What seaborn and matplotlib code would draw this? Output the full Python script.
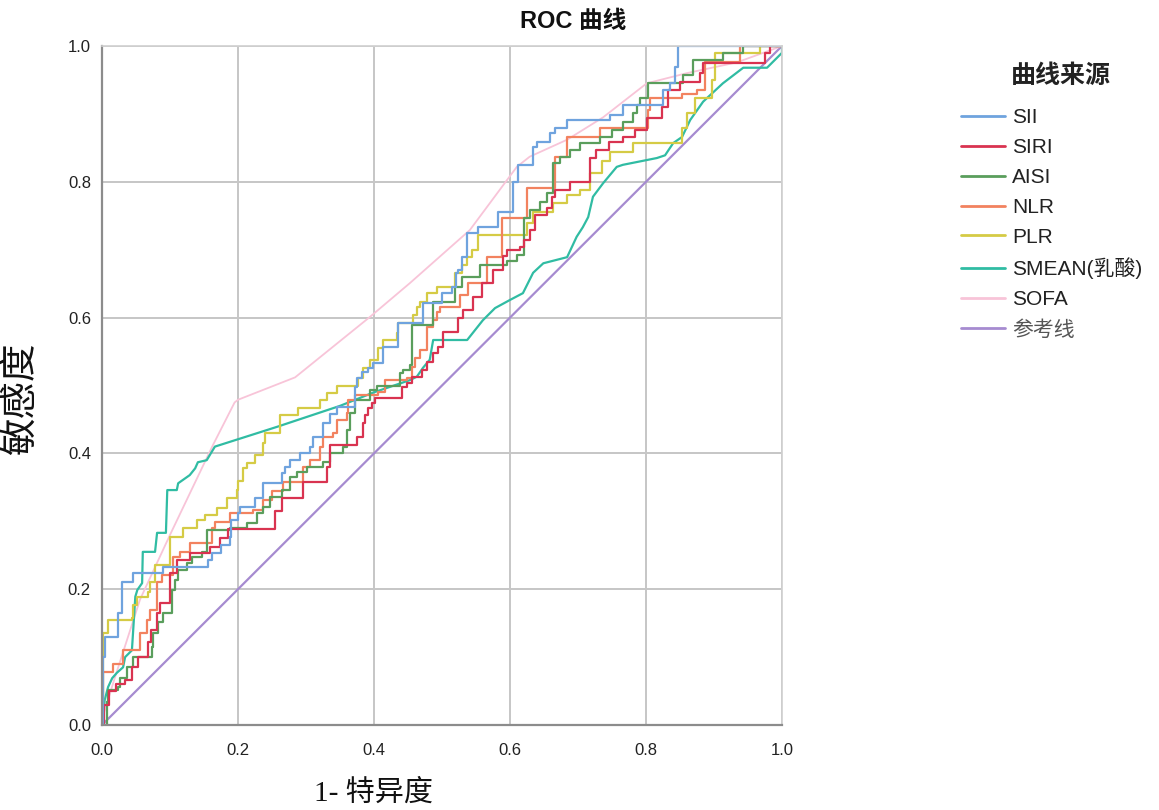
import matplotlib
matplotlib.use("Agg")
import matplotlib.pyplot as plt
import seaborn as sns
import pandas as pd

# ---------------- data (1-specificity, sensitivity) ----------------
SII_POINTS = [
    (0, 0), (0.001, 0.10), (0.004, 0.13), (0.024, 0.165), (0.03, 0.21), (0.046, 0.224),
    (0.09, 0.233), (0.156, 0.243), (0.162, 0.253), (0.175, 0.265), (0.188, 0.277),
    (0.19, 0.302), (0.2, 0.312), (0.203, 0.321), (0.225, 0.334), (0.237, 0.356),
    (0.265, 0.371), (0.269, 0.38), (0.276, 0.39), (0.291, 0.40), (0.306, 0.41),
    (0.31, 0.424), (0.325, 0.445), (0.335, 0.458), (0.346, 0.468), (0.372, 0.498),
    (0.375, 0.511), (0.382, 0.52), (0.391, 0.526), (0.399, 0.533), (0.413, 0.557),
    (0.435, 0.592), (0.472, 0.621), (0.50, 0.636), (0.515, 0.645), (0.52, 0.666),
    (0.524, 0.67), (0.529, 0.689), (0.537, 0.725), (0.553, 0.734), (0.582, 0.756),
    (0.604, 0.80), (0.612, 0.825), (0.634, 0.851), (0.639, 0.859), (0.659, 0.872),
    (0.666, 0.879), (0.684, 0.891), (0.747, 0.899), (0.766, 0.913), (0.825, 0.935),
    (0.835, 0.945), (0.843, 0.969), (0.847, 1.0), (1.0, 1.0),
]
SIRI_POINTS = [
    (0, 0), (0.003, 0.03), (0.01, 0.05), (0.02, 0.06), (0.034, 0.066), (0.044, 0.085),
    (0.053, 0.10), (0.068, 0.122), (0.072, 0.14), (0.081, 0.165), (0.085, 0.18),
    (0.1, 0.224), (0.11, 0.243), (0.129, 0.253), (0.159, 0.262), (0.174, 0.275),
    (0.185, 0.289), (0.254, 0.315), (0.265, 0.334), (0.296, 0.358), (0.331, 0.38),
    (0.335, 0.412), (0.375, 0.424), (0.384, 0.445), (0.387, 0.456), (0.391, 0.467),
    (0.397, 0.474), (0.401, 0.482), (0.441, 0.498), (0.448, 0.504), (0.456, 0.513),
    (0.47, 0.523), (0.478, 0.535), (0.487, 0.548), (0.494, 0.557), (0.502, 0.579),
    (0.524, 0.60), (0.531, 0.611), (0.545, 0.63), (0.559, 0.651), (0.575, 0.67),
    (0.59, 0.69), (0.596, 0.70), (0.615, 0.704), (0.62, 0.714), (0.629, 0.729),
    (0.637, 0.751), (0.654, 0.761), (0.662, 0.778), (0.666, 0.788), (0.688, 0.80),
    (0.718, 0.835), (0.727, 0.847), (0.745, 0.859), (0.766, 0.866), (0.784, 0.876),
    (0.801, 0.894), (0.823, 0.91), (0.832, 0.935), (0.85, 0.947), (0.879, 0.96),
    (0.884, 0.975), (0.975, 0.99), (0.982, 1.0), (1.0, 1.0),
]
AISI_POINTS = [
    (0, 0), (0.007, 0.034), (0.009, 0.052), (0.024, 0.056), (0.026, 0.069), (0.037, 0.085),
    (0.046, 0.1), (0.074, 0.115), (0.075, 0.135), (0.082, 0.152), (0.09, 0.165),
    (0.103, 0.199), (0.107, 0.213), (0.112, 0.228), (0.125, 0.238), (0.132, 0.248),
    (0.147, 0.255), (0.154, 0.287), (0.188, 0.29), (0.213, 0.297), (0.228, 0.312),
    (0.237, 0.321), (0.247, 0.336), (0.265, 0.346), (0.276, 0.365), (0.287, 0.373),
    (0.301, 0.38), (0.325, 0.387), (0.335, 0.40), (0.354, 0.41), (0.36, 0.434),
    (0.365, 0.46), (0.372, 0.479), (0.394, 0.493), (0.404, 0.50), (0.438, 0.518),
    (0.443, 0.523), (0.453, 0.53), (0.456, 0.589), (0.487, 0.623), (0.519, 0.645),
    (0.53, 0.66), (0.556, 0.677), (0.596, 0.684), (0.61, 0.692), (0.62, 0.747),
    (0.629, 0.758), (0.644, 0.77), (0.654, 0.783), (0.663, 0.828), (0.673, 0.837),
    (0.688, 0.847), (0.703, 0.857), (0.732, 0.866), (0.75, 0.876), (0.766, 0.888),
    (0.781, 0.901), (0.787, 0.913), (0.791, 0.923), (0.803, 0.945), (0.854, 0.957),
    (0.869, 0.979), (0.913, 0.99), (0.943, 1.0), (1.0, 1.0),
]
NLR_POINTS = [
    (0, 0), (0.001, 0.078), (0.016, 0.09), (0.031, 0.11), (0.056, 0.135), (0.066, 0.155),
    (0.071, 0.169), (0.081, 0.21), (0.088, 0.221), (0.104, 0.247), (0.115, 0.255),
    (0.129, 0.268), (0.162, 0.29), (0.166, 0.299), (0.188, 0.312), (0.222, 0.317),
    (0.237, 0.331), (0.25, 0.345), (0.266, 0.358), (0.296, 0.38), (0.306, 0.39),
    (0.321, 0.41), (0.325, 0.424), (0.34, 0.43), (0.345, 0.449), (0.36, 0.46),
    (0.362, 0.479), (0.372, 0.486), (0.406, 0.49), (0.416, 0.508), (0.448, 0.511),
    (0.456, 0.527), (0.46, 0.54), (0.468, 0.552), (0.478, 0.586), (0.487, 0.596),
    (0.493, 0.608), (0.497, 0.616), (0.526, 0.633), (0.538, 0.651), (0.566, 0.689),
    (0.588, 0.747), (0.625, 0.791), (0.666, 0.837), (0.684, 0.866), (0.732, 0.879),
    (0.803, 0.906), (0.806, 0.923), (0.853, 0.93), (0.875, 0.935), (0.887, 0.976),
    (0.938, 1.0), (1.0, 1.0),
]
PLR_POINTS = [
    (0, 0), (0.001, 0.135), (0.009, 0.155), (0.044, 0.157), (0.046, 0.177), (0.051, 0.189),
    (0.068, 0.196), (0.071, 0.21), (0.078, 0.236), (0.1, 0.277), (0.119, 0.29),
    (0.139, 0.302), (0.151, 0.309), (0.169, 0.32), (0.184, 0.334), (0.199, 0.346),
    (0.2, 0.36), (0.207, 0.378), (0.213, 0.386), (0.225, 0.398), (0.237, 0.415),
    (0.24, 0.43), (0.262, 0.456), (0.288, 0.467), (0.321, 0.479), (0.331, 0.489),
    (0.346, 0.50), (0.376, 0.511), (0.384, 0.526), (0.394, 0.538), (0.406, 0.555),
    (0.413, 0.567), (0.434, 0.577), (0.435, 0.592), (0.457, 0.604), (0.463, 0.616),
    (0.468, 0.623), (0.478, 0.636), (0.493, 0.645), (0.519, 0.666), (0.529, 0.677),
    (0.537, 0.689), (0.544, 0.70), (0.553, 0.722), (0.625, 0.74), (0.634, 0.756),
    (0.663, 0.769), (0.684, 0.781), (0.703, 0.788), (0.718, 0.813), (0.735, 0.83),
    (0.747, 0.844), (0.781, 0.857), (0.853, 0.879), (0.86, 0.901), (0.872, 0.923),
    (0.897, 0.95), (0.901, 0.99), (0.968, 1.0), (1.0, 1.0),
]
SMEAN_POINTS = [
    (0, 0), (0.004, 0.037), (0.009, 0.056), (0.015, 0.069), (0.022, 0.077), (0.031, 0.085),
    (0.034, 0.1), (0.044, 0.11), (0.049, 0.189), (0.052, 0.199), (0.059, 0.209),
    (0.06, 0.255), (0.078, 0.255), (0.081, 0.283), (0.094, 0.283), (0.096, 0.346),
    (0.11, 0.346), (0.112, 0.356), (0.129, 0.368), (0.137, 0.378), (0.141, 0.387),
    (0.154, 0.39), (0.166, 0.41), (0.257, 0.439), (0.35, 0.47), (0.40, 0.49),
    (0.453, 0.508), (0.463, 0.513), (0.472, 0.526), (0.482, 0.538), (0.487, 0.567),
    (0.537, 0.567), (0.56, 0.596), (0.578, 0.614), (0.6, 0.626), (0.619, 0.636),
    (0.634, 0.666), (0.649, 0.68), (0.684, 0.689), (0.698, 0.719), (0.707, 0.733),
    (0.715, 0.748), (0.722, 0.778), (0.737, 0.798), (0.757, 0.822), (0.766, 0.825),
    (0.816, 0.835), (0.828, 0.839), (0.84, 0.857), (0.853, 0.866), (0.865, 0.891),
    (0.884, 0.918), (0.913, 0.945), (0.943, 0.968), (0.978, 0.968), (1.0, 0.99),
    (1.0, 1.0),
]
SOFA_POINTS = [
    (0, 0), (0.002, 0.015), (0.019, 0.07), (0.056, 0.185), (0.1, 0.28), (0.163, 0.412),
    (0.195, 0.475), (0.2, 0.479), (0.284, 0.512), (0.394, 0.601), (0.453, 0.651),
    (0.541, 0.729), (0.61, 0.822), (0.629, 0.837), (0.684, 0.862), (0.737, 0.895),
    (0.801, 0.945), (0.86, 0.96), (0.934, 0.976), (1.0, 1.0),
]
REF_POINTS = [(0, 0), (1, 1)]

CURVE_NAMES = ["SII", "SIRI", "AISI", "NLR", "PLR", "SMEAN(乳酸)", "SOFA", "参考线"]
CURVE_DATA = [SII_POINTS, SIRI_POINTS, AISI_POINTS, NLR_POINTS, PLR_POINTS,
              SMEAN_POINTS, SOFA_POINTS, REF_POINTS]
CURVE_COLORS = ["#6fa3de", "#d93350", "#5a9e5c", "#f2825f", "#d5cb45",
                "#30bca3", "#f8c4d8", "#a68bd0"]
CURVE_STEPPED = [True, True, True, True, True, False, False, False]
TICKS = [0.0, 0.2, 0.4, 0.6, 0.8, 1.0]
TICK_LABELS = ["0.0", "0.2", "0.4", "0.6", "0.8", "1.0"]

# ---------------- style ----------------
sns.set_theme(style="whitegrid")
plt.rcParams["font.family"] = ["Liberation Sans", "Noto Sans CJK SC", "DejaVu Sans"]
plt.rcParams["axes.unicode_minus"] = False

fig = plt.figure(figsize=(11.59, 8.10), dpi=100)
ax = fig.add_axes([102 / 1159, 1 - 725 / 810, 680 / 1159, 679 / 810])
ax.set_facecolor("white")

draw_order = [7, 6, 5, 4, 3, 2, 1, 0]
lines = {}
for i in draw_order:
    pts = CURVE_DATA[i]
    df = pd.DataFrame(pts, columns=["fpr", "tpr"])
    kw = dict(drawstyle="steps-post") if CURVE_STEPPED[i] else {}
    lw = 1.3 if CURVE_NAMES[i] == "SOFA" else 1.6
    sns.lineplot(data=df, x="fpr", y="tpr", ax=ax, color=CURVE_COLORS[i],
                 estimator=None, sort=False, linewidth=lw, legend=False, **kw)
    lines[i] = ax.lines[-1]

ax.set_xlim(0, 1)
ax.set_ylim(0, 1)
ax.set_xticks(TICKS)
ax.set_yticks(TICKS)
ax.set_xticklabels(TICK_LABELS)
ax.set_yticklabels(TICK_LABELS)
ax.tick_params(axis="both", length=0, labelsize=12, colors="#222222")
ax.tick_params(axis="x", pad=13)
ax.tick_params(axis="y", pad=8)
ax.grid(True, color="#c6c6c6", linewidth=1.4)
ax.set_xlabel("")
ax.set_ylabel("")
for side in ["top", "right"]:
    ax.spines[side].set_color("#d0d0d0")
    ax.spines[side].set_linewidth(1.2)
for side in ["left", "bottom"]:
    ax.spines[side].set_color("#8c8c8c")
    ax.spines[side].set_linewidth(1.6)

fig.text(573 / 1159, 1 - 22 / 810, "ROC 曲线", ha="center", va="center",
         fontsize=17, fontweight="bold", color="#111111")
fig.text(374 / 1159, 1 - 793 / 810, "1- 特异度", ha="center", va="center",
         fontsize=21, family=["Liberation Serif", "Noto Sans CJK SC"], color="#111111")
fig.text(22 / 1159, 1 - 399 / 810, "敏感度", ha="center", va="center", rotation=90,
         fontsize=27, family=["Liberation Serif", "Noto Sans CJK SC"], color="#111111")

# legend title placed as its own text, entries below
fig.text(1061 / 1159, 1 - 76 / 810, "曲线来源", ha="center", va="center",
         fontsize=18, fontweight="bold", color="#222222")
leg = fig.legend([lines[i] for i in range(8)], CURVE_NAMES,
                 loc="upper left", bbox_to_anchor=(953 / 1159, 1 - 100 / 810),
                 frameon=False, fontsize=15,
                 handlelength=2.1, handletextpad=0.33, labelspacing=0.52,
                 borderaxespad=0)
for t in leg.get_texts():
    t.set_color("#222222")
leg.get_texts()[-1].set_color("#555555")
for l in leg.get_lines():
    l.set_linewidth(2.0)

fig.savefig("out.png", dpi=100, facecolor="white")
